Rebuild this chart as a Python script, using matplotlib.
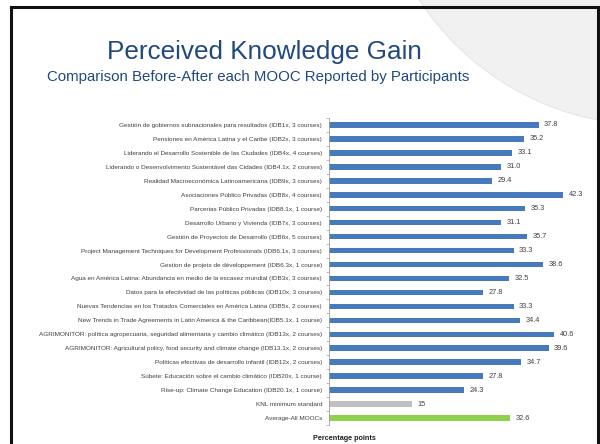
import matplotlib
matplotlib.use("Agg")
import numpy as np
from matplotlib import pyplot as plt
from matplotlib.patches import Ellipse
from matplotlib.lines import Line2D

courses = [
    "Gestión de gobiernos subnacionales para resultados (IDB1x, 3 courses)",
    "Pensiones en América Latina y el Caribe (IDB2x, 3 courses)",
    "Liderando el Desarrollo Sostenible de las Ciudades (IDB4x, 4 courses)",
    "Liderando o Desenvolvimento Sustentável das Cidades (IDB4.1x, 2 courses)",
    "Realidad Macroeconómica Latinoamericana (IDB9x, 3 courses)",
    "Asociaciones Público Privadas (IDB8x, 4 courses)",
    "Parcerias Público Privadas (IDB8.1x, 1 course)",
    "Desarrollo Urbano y Vivienda (IDB7x, 3 courses)",
    "Gestión de Proyectos de Desarrollo (IDB6x, 5 courses)",
    "Project Management Techniques for Development Professionals (IDB6.1x, 3 courses)",
    "Gestion de projets de développement (IDB6.3x, 1 course)",
    "Agua en América Latina: Abundancia en medio de la escasez mundial (IDB3x, 3 courses)",
    "Datos para la efectividad de las políticas públicas (IDB10x, 3 courses)",
    "Nuevas Tendencias en los Tratados Comerciales en América Latina (IDB5x, 2 courses)",
    "New Trends in Trade Agreements in Latin America & the Caribbean(IDB5.1x, 1 course)",
    "AGRIMONITOR: política agropecuaria, seguridad alimentaria y cambio climático (IDB13x, 2 courses)",
    "AGRIMONITOR: Agricultural policy, food security and climate change (IDB13.1x, 2 courses)",
    "Políticas efectivas de desarrollo infantil (IDB12x, 2 courses)",
    "Súbete: Educación sobre el cambio climático (IDB20x, 1 course)",
    "Rise-up: Climate Change Education (IDB20.1x, 1 course)",
]
gains = [37.8, 35.2, 33.1, 31.0, 29.4, 42.3, 35.3, 31.1, 35.7, 33.3, 38.6,
         32.5, 27.8, 33.3, 34.4, 40.6, 39.6, 34.7, 27.8, 24.3]

standard_label = "KNL minimum standard"
standard_value = 15
average_label = "Average-All MOOCs"
average_value = 32.6

labels = courses + [standard_label, average_label]
values = gains + [standard_value, average_value]
value_texts = [f"{v:.1f}" for v in gains] + [f"{standard_value:g}", f"{average_value:.1f}"]
colors = ["#4779bd"] * len(gains) + ["#c0c0c0", "#8fd14f"]

plt.rcParams["font.family"] = ["Liberation Sans", "DejaVu Sans"]

fig = plt.figure(figsize=(6, 4.44), dpi=100)

# slide decoration: faint swoosh top right and the frame
fig.patches.append(Ellipse((650 / 600, 1 + 150 / 444), 550 / 600, 550 / 444,
                           transform=fig.transFigure, facecolor="#f1f1f1",
                           edgecolor="#e6e6e6", lw=0.8, zorder=-5))
frame = dict(transform=fig.transFigure, color="#111111", lw=2.2)
fig.lines.append(Line2D([11 / 600, 598 / 600], [1 - 7 / 444, 1 - 7 / 444], **frame))
fig.lines.append(Line2D([11 / 600, 11 / 600], [0, 1 - 7 / 444], **frame))
fig.lines.append(Line2D([598 / 600, 598 / 600], [0, 1 - 7 / 444], **frame))

fig.text(0.441, 0.868, "Perceived Knowledge Gain", ha="center", va="baseline",
         fontsize=18.8, color="#21497f")
fig.text(0.43, 0.817, "Comparison Before-After each MOOC Reported by Participants",
         ha="center", va="baseline", fontsize=10.8, color="#21497f")

ax = fig.add_axes([329 / 600, 19 / 444, 255 / 600, 307 / 444])
ax.patch.set_alpha(0)
y = np.arange(len(labels))
ax.barh(y, values, height=0.4, color=colors)
ax.set_ylim(len(labels) - 0.5, -0.5)
ax.set_xlim(0, 46)

for yi, v, t in zip(y, values, value_texts):
    ax.text(v + 1.0, yi, t, va="center", ha="left", fontsize=5.3, color="#404040")

ax.set_yticks(y)
ax.set_yticklabels(labels, fontsize=4.55, color="#404040")
ax.set_yticks(np.arange(len(labels) + 1) - 0.5, minor=True)
ax.tick_params(axis="y", which="major", length=0, pad=5)
ax.tick_params(axis="y", which="minor", length=2, width=0.5, color="#a0a0a0")
ax.set_xticks([])
for s in ["top", "right", "bottom"]:
    ax.spines[s].set_visible(False)
ax.spines["left"].set_color("#a0a0a0")
ax.spines["left"].set_linewidth(0.6)

fig.text(313 / 600, 1 - 440 / 444, "Percentage points", fontsize=5.2,
         fontweight="bold", color="#202020", va="baseline")

fig.savefig("out.png", dpi=100)
